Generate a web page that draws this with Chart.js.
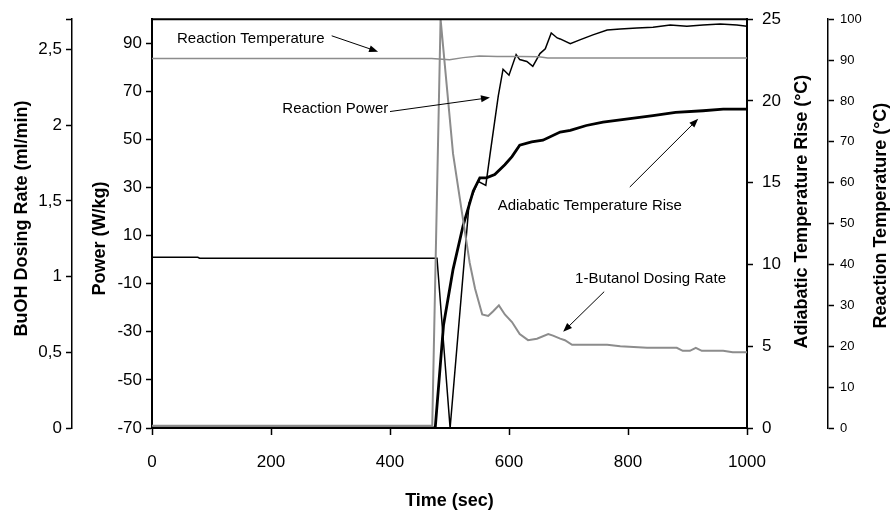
<!DOCTYPE html>
<html>
<head>
<meta charset="utf-8">
<script src="https://cdn.jsdelivr.net/npm/chart.js@4.4.0/dist/chart.umd.min.js"></script>
<style>
html, body { margin: 0; padding: 0; background: #fff; }
#wrap { width: 890px; height: 513px; }
</style>
</head>
<body>
<div id="wrap"><canvas id="reaction-chart" width="890" height="513"></canvas></div>
<script>
var FONT = '"Liberation Sans", Arial, sans-serif';

// tick labels
var timeTicks = [0, 200, 400, 600, 800, 1000];
var powerTicks = [-70, -50, -30, -10, 10, 30, 50, 70, 90];
var dosingTicks = [0, 0.5, 1, 1.5, 2, 2.5, 2.7];
var riseTicks = [0, 5, 10, 15, 20, 25];
var tempTicks = [0, 10, 20, 30, 40, 50, 60, 70, 80, 90, 100];

// 1-Butanol dosing rate (ml/min)
var dosingTime = [0, 471, 485, 506, 523, 534, 543, 555, 565, 573, 583, 593, 605, 618, 632, 647, 666, 674, 686, 694, 706, 731, 765, 787, 832, 849, 882, 892, 904, 914, 924, 960, 976, 1000];
var dosingRate = [0.015, 0.015, 2.7, 1.81, 1.37, 1.09, 0.92, 0.75, 0.74, 0.77, 0.81, 0.75, 0.70, 0.62, 0.58, 0.59, 0.62, 0.61, 0.59, 0.58, 0.55, 0.55, 0.55, 0.54, 0.53, 0.53, 0.53, 0.51, 0.51, 0.53, 0.51, 0.51, 0.50, 0.50];

// reaction temperature (C)
var tempTime = [0, 470, 500, 523, 550, 580, 620, 650, 665, 1000];
var tempValue = [90.4, 90.4, 90.1, 90.6, 91.0, 90.9, 90.9, 90.8, 90.5, 90.5];

// reaction power (W/kg)
var powerTime = [0, 77, 80, 479, 501, 533, 548, 561, 568, 582, 590, 600, 612, 618, 630, 640, 652, 661, 671, 681, 686, 703, 719, 741, 765, 787, 815, 842, 871, 899, 926, 955, 983, 1000];
var powerValue = [1.0, 1.0, 0.6, 0.6, -70, 23.6, 32.6, 30.9, 43.6, 68.1, 79.2, 76.7, 85.3, 83.2, 82.4, 80.4, 85.7, 87.7, 94.3, 92.2, 91.8, 89.8, 91.4, 93.5, 95.5, 95.9, 96.3, 96.7, 97.6, 97.1, 97.6, 98.0, 97.6, 97.1];

// adiabatic temperature rise (C)
var riseTime = [0, 476, 490, 506, 523, 540, 551, 562, 576, 593, 605, 618, 638, 657, 686, 703, 730, 758, 800, 842, 880, 926, 960, 1000];
var riseValue = [0, 0, 6.3, 9.7, 12.4, 14.5, 15.3, 15.3, 15.5, 16.1, 16.6, 17.3, 17.5, 17.6, 18.1, 18.2, 18.5, 18.7, 18.9, 19.1, 19.3, 19.4, 19.5, 19.5];

// callouts, anchored in time / power units
var callouts = [
	{text: 'Reaction Temperature', at: [42, 92], align: 'left', from: [302, 93.1], to: [380, 86.5]},
	{text: 'Reaction Power', at: [397, 62.7], align: 'right', from: [400, 61.6], to: [568, 67.4]},
	{text: 'Adiabatic Temperature Rise', at: [581, 22.5], align: 'left', from: [803, 30.2], to: [918, 58.6]},
	{text: '1-Butanol Dosing Rate', at: [711, -7.9], align: 'left', from: [760, -13.3], to: [691, -30]}
];

var yTitles = [
	{text: 'BuOH Dosing Rate (ml/min)', x: 22, shift: -5},
	{text: 'Power (W/kg)', x: 100, shift: 15},
	{text: 'Adiabatic Temperature Rise (°C)', x: 802, shift: -12},
	{text: 'Reaction Temperature (°C)', x: 881, shift: -8}
];

function points(xs, ys){
	return xs.map(function(x, i){ return {x: x, y: ys[i]}; });
}

function fixedTicks(list){
	return function(scale){
		scale.ticks = list.map(function(v){ return {value: v}; });
	};
}

function yAxis(pos, min, max, list, width, weight, size, bw){
	return {
		type: 'linear', position: pos, min: min, max: max, weight: weight,
		afterBuildTicks: fixedTicks(list),
		afterFit: function(s){ s.width = width; },
		grid: {drawOnChartArea: false, drawTicks: true, tickLength: 6, tickColor: '#000', tickWidth: 1.5},
		border: {color: '#000', width: bw},
		ticks: {color: '#000', font: {family: FONT, size: size}, padding: 4}
	};
}

var overlay = {
	id: 'overlay',
	afterDraw: function(chart){
		var ctx = chart.ctx, area = chart.chartArea;
		var xs = chart.scales.x, ps = chart.scales.yPower;
		ctx.save();
		// top frame line
		ctx.strokeStyle = '#000';
		ctx.lineWidth = 2;
		ctx.beginPath();
		ctx.moveTo(area.left - 1, area.top);
		ctx.lineTo(area.right + 1, area.top);
		ctx.stroke();

		// y axis titles, reading bottom to top
		ctx.font = 'bold 18px ' + FONT;
		ctx.fillStyle = '#000';
		ctx.textAlign = 'center';
		ctx.textBaseline = 'middle';
		var mid = (area.top + area.bottom) / 2;
		yTitles.forEach(function(t){
			ctx.save();
			ctx.translate(t.x, mid + t.shift);
			ctx.rotate(-Math.PI / 2);
			ctx.fillText(t.text, 0, 0);
			ctx.restore();
		});

		// callouts with arrows
		ctx.font = '15px ' + FONT;
		ctx.lineWidth = 1;
		callouts.forEach(function(c){
			ctx.textAlign = c.align;
			ctx.fillText(c.text, xs.getPixelForValue(c.at[0]), ps.getPixelForValue(c.at[1]));
			var x0 = xs.getPixelForValue(c.from[0]), y0 = ps.getPixelForValue(c.from[1]);
			var x1 = xs.getPixelForValue(c.to[0]), y1 = ps.getPixelForValue(c.to[1]);
			var a = Math.atan2(y1 - y0, x1 - x0);
			ctx.beginPath();
			ctx.moveTo(x0, y0);
			ctx.lineTo(x1 - 6 * Math.cos(a), y1 - 6 * Math.sin(a));
			ctx.stroke();
			ctx.beginPath();
			ctx.moveTo(x1, y1);
			ctx.lineTo(x1 - 9 * Math.cos(a) + 3.5 * Math.sin(a), y1 - 9 * Math.sin(a) - 3.5 * Math.cos(a));
			ctx.lineTo(x1 - 9 * Math.cos(a) - 3.5 * Math.sin(a), y1 - 9 * Math.sin(a) + 3.5 * Math.cos(a));
			ctx.closePath();
			ctx.fill();
		});
		ctx.restore();
	}
};

var doseAxis = yAxis('left', 0, 2.7, dosingTicks, 72, 1, 17, 1.5);
doseAxis.ticks.callback = function(v){ return v === 2.7 ? '' : String(v).replace('.', ','); };
var powerAxis = yAxis('left', -70, 100, powerTicks, 80, 0, 17, 2);
var riseAxis = yAxis('right', 0, 25, riseTicks, 81, 0, 17, 2);
riseAxis.ticks.padding = 9;
var tempAxis = yAxis('right', 0, 100, tempTicks, 62, 1, 13, 1.5);
tempAxis.ticks.padding = 6;

var ctx = document.getElementById('reaction-chart');
var reactionChart = new Chart(ctx, {
	type: 'line',
	data: {
		datasets: [
			{label: '1-Butanol Dosing Rate', data: points(dosingTime, dosingRate), yAxisID: 'yDose', borderColor: '#8c8c8c', borderWidth: 2},
			{label: 'Reaction Temperature', data: points(tempTime, tempValue), yAxisID: 'yTemp', borderColor: '#8c8c8c', borderWidth: 1.5},
			{label: 'Reaction Power', data: points(powerTime, powerValue), yAxisID: 'yPower', borderColor: '#000', borderWidth: 1.5},
			{label: 'Adiabatic Temperature Rise', data: points(riseTime, riseValue), yAxisID: 'yRise', borderColor: '#000', borderWidth: 2.8}
		]
	},
	options: {
		responsive: false,
		devicePixelRatio: 1,
		animation: false,
		layout: {padding: {top: 12, left: 0, right: 0, bottom: 0}},
		elements: {point: {radius: 0}, line: {tension: 0, fill: false}},
		plugins: {legend: {display: false}, tooltip: {enabled: false}},
		scales: {
			x: {
				type: 'linear', position: 'bottom', min: 0, max: 1000,
				afterBuildTicks: fixedTicks(timeTicks),
				afterFit: function(s){ s.height = 85; },
				grid: {drawOnChartArea: false, drawTicks: true, tickLength: 7, tickColor: '#000', tickWidth: 1.5},
				border: {color: '#000', width: 2},
				ticks: {color: '#000', font: {family: FONT, size: 17}, padding: 17, maxRotation: 0,
					callback: function(v){ return String(v); }},
				title: {display: true, text: 'Time (sec)', color: '#000', font: {family: FONT, size: 18, weight: 'bold'}, padding: {top: 0, bottom: 1}}
			},
			yDose: doseAxis,
			yPower: powerAxis,
			yRise: riseAxis,
			yTemp: tempAxis
		}
	},
	plugins: [overlay]
});
</script>
</body>
</html>
